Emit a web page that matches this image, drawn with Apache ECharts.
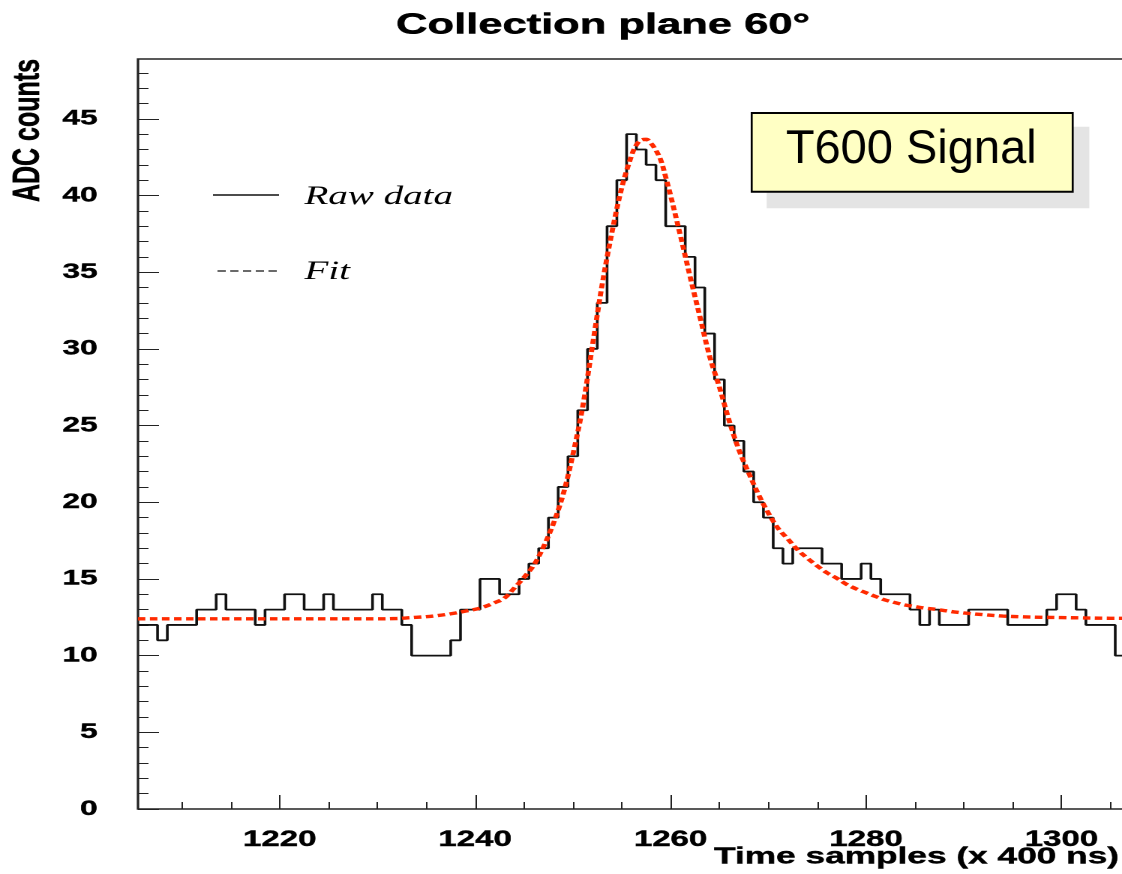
<!DOCTYPE html>
<html>
<head>
<meta charset="utf-8">
<script src="https://cdn.jsdelivr.net/npm/echarts@6/dist/echarts.min.js"></script>
<style>
html,body{margin:0;padding:0;background:#fff;overflow:hidden;}
#chart{height:874px;transform-origin:0 0;}
</style>
</head>
<body>
<div id="chart"></div>
<script>
// ---- data ----
const binCenters = [1206,1207,1208,1209,1210,1211,1212,1213,1214,1215,1216,1217,1218,1219,1220,1221,1222,1223,1224,1225,
  1226,1227,1228,1229,1230,1231,1232,1233,1234,1235,1236,1237,1238,1239,1240,1241,1242,1243,1244,1245,
  1246,1247,1248,1249,1250,1251,1252,1253,1254,1255,1256,1257,1258,1259,1260,1261,1262,1263,1264,1265,
  1266,1267,1268,1269,1270,1271,1272,1273,1274,1275,1276,1277,1278,1279,1280,1281,1282,1283,1284,1285,
  1286,1287,1288,1289,1290,1291,1292,1293,1294,1295,1296,1297,1298,1299,1300,1301,1302,1303,1304,1305,1306];
const rawCounts = [12,12,11,12,12,12,13,13,14,13,13,13,12,13,13,14,14,13,13,14,
  13,13,13,13,14,13,13,12,10,10,10,10,11,13,13,15,15,14,14,15,
  16,17,19,21,23,26,30,33,38,41,44,43,42,41,38,38,36,34,31,28,
  25,24,22,20,19,17,16,17,17,17,16,16,15,15,16,15,14,14,14,13,
  12,13,12,12,12,13,13,13,13,12,12,12,12,13,14,14,13,12,12,12,10];
const fitX = [1205.5,1210,1215,1220,1225,1230,
  1232,1233,1234,1235,1236,1237,1238,1239,1240,1241,1242,1243,1244,1245,1246,1247,1248,1249,1250,1251,1252,1253,1254,1255,1256,
  1256.5,1257,1257.5,1258,1258.5,1259,1259.5,
  1260,1261,1262,1263,1264,1265,1266,1267,1268,1269,1270,1271,1272,1273,1274,1275,1276,1277,1278,1279,1280,1281,1282,1283,1284,1285,1286,1287,1288,1289,1290,
  1292,1294,1296,1298,1300,1302,1304,1306.5];
const fitY = [12.4,12.4,12.4,12.4,12.4,12.4,
  12.42,12.46,12.5,12.54,12.6,12.68,12.78,12.9,13.02,13.2,13.45,13.75,14.4,15.1,15.9,17.1,18.6,20.5,23.1,26.2,30.2,34.2,37.6,40.5,42.6,
  43.3,43.62,43.66,43.4,42.95,42.3,41.2,
  40.0,37.4,34.7,32.1,29.5,27.5,25.3,23.4,21.9,20.5,19.3,18.3,17.6,16.9,16.35,15.85,15.4,15.05,14.65,14.35,14.1,13.85,13.62,13.45,13.3,13.2,13.1,13.03,12.94,12.85,12.78,
  12.67,12.58,12.53,12.5,12.48,12.46,12.44,12.43];
const xTickLabels = [1220,1240,1260,1280,1300];
const xMinorTicks = [1210,1215,1220,1225,1230,1235,1240,1245,1250,1255,1260,1265,1270,1275,1280,1285,1290,1295,1300,1305];
const yTickLabels = [0,5,10,15,20,25,30,35,40,45];
const yMinorTicks = [0,1,2,3,4,5,6,7,8,9,10,11,12,13,14,15,16,17,18,19,20,21,22,23,24,25,26,27,28,29,30,31,32,33,34,35,36,37,38,39,40,41,42,43,44,45,46,47,48];
const titleText = 'Collection plane 60°';
const xTitle = 'Time samples (x 400 ns)';
const yTitle = 'ADC counts';
const legendNames = ['Raw data', 'Fit'];
const boxText = 'T600 Signal';

// ---- layout: the reference image is horizontally stretched ----
const S = 1.5;
const W = 1122 / S;
const el = document.getElementById('chart');
el.style.width = W + 'px';
el.style.transform = 'scaleX(' + S + ')';

const xMin = 1205.5, xMax = 1306.5, yMin = 0, yMax = 48.9;

const histPoints = binCenters.map((c, i) => [c - 0.5, rawCounts[i]]);
histPoints.push([binCenters[binCenters.length - 1] + 0.5, rawCounts[rawCounts.length - 1]]);
const fitPoints = fitX.map((x, i) => [x, fitY[i]]);

const chart = echarts.init(el, null, {renderer: 'canvas', devicePixelRatio: 2});
const labelFont = 'Liberation Sans';
const tickColor = '#222';
const plain = v => String(v);

chart.setOption({
  animation: false,
  backgroundColor: '#fff',
  title: {
    text: titleText, left: 402, top: 11, padding: 0, textAlign: 'center',
    textStyle: {fontFamily: labelFont, fontWeight: 'bold', fontSize: 29, color: '#000', textBorderColor: '#000', textBorderWidth: 0.5}
  },
  grid: {left: 92, right: -2, top: 59, bottom: 65, show: true, borderColor: '#222', borderWidth: 1.6,
         backgroundColor: 'transparent', containLabel: false, outerBoundsMode: 'none'},
  xAxis: [
    {type: 'value', min: xMin, max: xMax, position: 'bottom', axisLine: {show: false}, splitLine: {show: false},
     axisTick: {show: true, inside: true, length: 14, customValues: xTickLabels, lineStyle: {color: tickColor, width: 1}},
     axisLabel: {show: true, customValues: xTickLabels, formatter: plain, margin: 20, color: '#000', fontFamily: labelFont, fontWeight: 'bold', fontSize: 22, textBorderColor: '#000', textBorderWidth: 0.4}},
    {type: 'value', min: xMin, max: xMax, position: 'bottom', axisLine: {show: false}, splitLine: {show: false},
     axisTick: {show: true, inside: true, length: 7, customValues: xMinorTicks, lineStyle: {color: tickColor, width: 1}},
     axisLabel: {show: false}}
  ],
  yAxis: [
    {type: 'value', min: yMin, max: yMax, position: 'left', axisLine: {show: false}, splitLine: {show: false},
     axisTick: {show: true, inside: true, length: 14, customValues: yTickLabels, lineStyle: {color: tickColor, width: 1}},
     axisLabel: {show: true, customValues: yTickLabels, formatter: plain, margin: 27, color: '#000', fontFamily: labelFont, fontWeight: 'bold', fontSize: 21, textBorderColor: '#000', textBorderWidth: 0.4}},
    {type: 'value', min: yMin, max: yMax, position: 'left', axisLine: {show: false}, splitLine: {show: false},
     axisTick: {show: true, inside: true, length: 7, customValues: yMinorTicks, lineStyle: {color: tickColor, width: 1}},
     axisLabel: {show: false}}
  ],
  series: [
    {type: 'line', name: legendNames[0], xAxisIndex: 0, yAxisIndex: 0, data: histPoints, step: 'end',
     symbol: 'none', showSymbol: false, lineStyle: {color: '#111', width: 1.8}, z: 2},
    {type: 'line', name: legendNames[1], xAxisIndex: 0, yAxisIndex: 0, data: fitPoints, smooth: 0.35,
     symbol: 'none', showSymbol: false, lineStyle: {color: '#ff2a00', width: 3.4, type: [5, 3]}, z: 3}
  ],
  graphic: [
    {type: 'text', x: 19, y: 59, rotation: Math.PI / 2,
     style: {text: yTitle, fontFamily: labelFont, fontWeight: 'bold', fontSize: 25, fill: '#000', stroke: '#000', lineWidth: 0.4, align: 'right', verticalAlign: 'middle'}},
    {type: 'text', x: 746, y: 857,
     style: {text: xTitle, fontFamily: labelFont, fontWeight: 'bold', fontSize: 23.5, fill: '#000', stroke: '#000', lineWidth: 0.4, align: 'right', verticalAlign: 'middle'}},
    // legend
    {type: 'line', shape: {x1: 142, y1: 195, x2: 186, y2: 195}, style: {stroke: '#111', lineWidth: 1.4}},
    {type: 'text', x: 203, y: 197,
     style: {text: legendNames[0], fontFamily: 'Liberation Serif', fontStyle: 'italic', fontSize: 26, fill: '#000', align: 'left', verticalAlign: 'middle'}},
    {type: 'line', shape: {x1: 145, y1: 271, x2: 187, y2: 271}, style: {stroke: '#111', lineWidth: 1.2, lineDash: [5.5, 3]}},
    {type: 'text', x: 203, y: 272,
     style: {text: legendNames[1], fontFamily: 'Liberation Serif', fontStyle: 'italic', fontSize: 26, fill: '#000', align: 'left', verticalAlign: 'middle'}},
    // annotation box (not stretched in the reference)
    {type: 'group', x: 751.7 / S, y: 0, scaleX: 1 / S, z: 10, children: [
      {type: 'rect', shape: {x: 15, y: 126.7, width: 322.6, height: 81.6}, style: {fill: '#e4e4e4'}},
      {type: 'rect', shape: {x: 0, y: 113, width: 321, height: 78.7}, style: {fill: '#ffffc4', stroke: '#000', lineWidth: 2}},
      {type: 'text', x: 159.5, y: 150,
       style: {text: boxText, fontFamily: 'Liberation Sans', fontSize: 47, fill: '#000', align: 'center', verticalAlign: 'middle'}}
    ]}
  ]
});
</script>
</body>
</html>
